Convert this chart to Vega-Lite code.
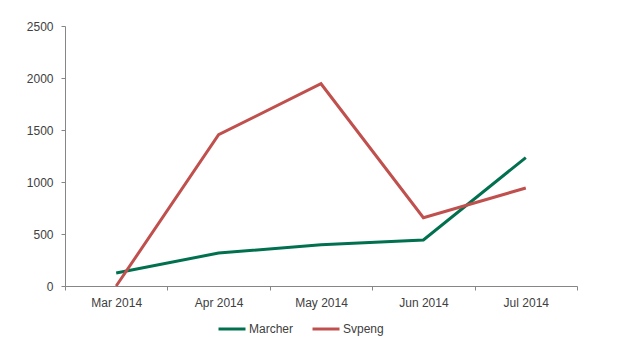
{
  "$schema": "https://vega.github.io/schema/vega-lite/v6.json",
  "width": 512,
  "height": 260,
  "autosize": {"type": "none"},
  "padding": {"left": 65, "top": 26, "right": 47, "bottom": 70},
  "background": "white",
  "data": {
    "values": [
      {"month": "Mar 2014", "series": "Marcher", "value": 125},
      {"month": "Apr 2014", "series": "Marcher", "value": 317},
      {"month": "May 2014", "series": "Marcher", "value": 397},
      {"month": "Jun 2014", "series": "Marcher", "value": 442},
      {"month": "Jul  2014", "series": "Marcher", "value": 1235},
      {"month": "Mar 2014", "series": "Svpeng", "value": 0},
      {"month": "Apr 2014", "series": "Svpeng", "value": 1455},
      {"month": "May 2014", "series": "Svpeng", "value": 1945},
      {"month": "Jun 2014", "series": "Svpeng", "value": 657},
      {"month": "Jul  2014", "series": "Svpeng", "value": 942}
    ]
  },
  "mark": {"type": "line", "strokeWidth": 3},
  "encoding": {
    "x": {
      "field": "month",
      "type": "ordinal",
      "sort": ["Mar 2014", "Apr 2014", "May 2014", "Jun 2014", "Jul  2014"],
      "scale": {"paddingInner": 0, "paddingOuter": 0},
      "axis": {
        "title": null,
        "labelAngle": 0,
        "grid": false,
        "domainColor": "#868686",
        "tickColor": "#868686",
        "tickSize": 4,
        "tickBand": "extent",
        "labelPadding": 7,
        "labelFont": "Liberation Sans",
        "labelFontSize": 12,
        "labelColor": "#404040"
      }
    },
    "y": {
      "field": "value",
      "type": "quantitative",
      "scale": {"domain": [0, 2500], "nice": false},
      "axis": {
        "title": null,
        "values": [0, 500, 1000, 1500, 2000, 2500],
        "format": "d",
        "grid": false,
        "domainColor": "#868686",
        "tickColor": "#868686",
        "tickSize": 4,
        "labelPadding": 8,
        "labelFont": "Liberation Sans",
        "labelFontSize": 12,
        "labelColor": "#404040"
      }
    },
    "color": {
      "field": "series",
      "type": "nominal",
      "scale": {"domain": ["Marcher", "Svpeng"], "range": ["#00704F", "#C0504D"]},
      "legend": {
        "title": null,
        "orient": "none",
        "direction": "horizontal",
        "legendX": 152,
        "legendY": 288,
        "symbolType": "stroke",
        "symbolSize": 729,
        "symbolStrokeWidth": 3,
        "labelFont": "Liberation Sans",
        "labelFontSize": 12,
        "labelColor": "#404040",
        "labelOffset": 2,
        "columnPadding": 12
      }
    }
  },
  "config": {"view": {"stroke": null}}
}
